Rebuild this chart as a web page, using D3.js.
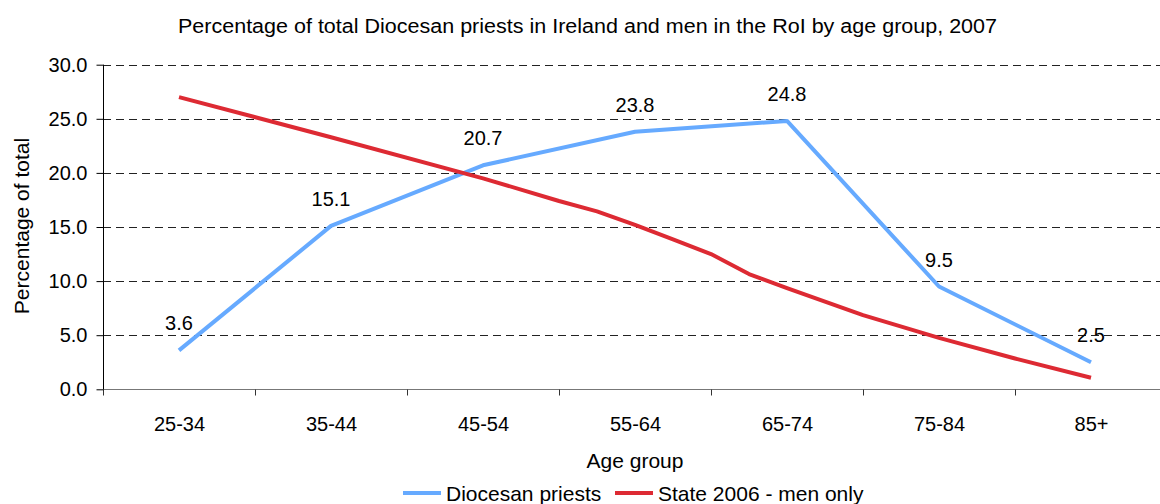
<!DOCTYPE html>
<html>
<head>
<meta charset="utf-8">
<script src="https://cdn.jsdelivr.net/npm/d3@7"></script>
<style>
  body { margin: 0; background: #fff; }
  text { font-family: "Liberation Sans", Arial, sans-serif; fill: #000; }
</style>
</head>
<body>
<div id="chart"></div>
<script>
// categories and values
var ageGroups = ["25-34", "35-44", "45-54", "55-64", "65-74", "75-84", "85+"];
var priests = [3.6, 15.1, 20.7, 23.8, 24.8, 9.5, 2.5];
// State 2006 series, position given in category units (0 = 25-34)
var statePos = [0, 1, 2, 2.5, 2.75, 3, 3.25, 3.5, 3.75, 4, 4.5, 5, 5.5, 6];
var stateVals = [27.0, 23.3, 19.5, 17.4, 16.45, 15.2, 13.85, 12.5, 10.65, 9.35, 6.85, 4.75, 2.85, 1.07];
var yTicks = [0, 5, 10, 15, 20, 25, 30];
var seriesNames = ["Diocesan priests", "State 2006 - men only"];

var W = 1160, H = 504;
var plotLeft = 103, plotRight = 1167, plotTop = 64.7, plotBottom = 389.3;
var blue = "#66aaff", red = "#dd2a33";

var svg = d3.select("#chart")
  .append("svg")
    .attr("width", W)
    .attr("height", H);

// x: linear on category index so boundaries sit at half steps
var x = d3.scaleLinear()
  .domain([-0.5, ageGroups.length - 0.5])
  .range([plotLeft, plotRight]);

var y = d3.scaleLinear()
  .domain([0, 30])
  .range([plotBottom, plotTop]);

// Title (narrow-looking in the original, so squeeze it to its width)
svg.append("text")
  .attr("x", 178)
  .attr("y", 33)
  .attr("textLength", 819)
  .attr("lengthAdjust", "spacingAndGlyphs")
  .style("font-size", "20px")
  .text("Percentage of total Diocesan priests in Ireland and men in the RoI by age group, 2007");

// gridlines
svg.append("g")
  .selectAll("line")
  .data(yTicks.filter(function (d) { return d > 0; }))
  .enter()
  .append("line")
    .attr("x1", plotLeft)
    .attr("x2", W)
    .attr("y1", function (d) { return Math.round(y(d)) + 0.5; })
    .attr("y2", function (d) { return Math.round(y(d)) + 0.5; })
    .attr("stroke", "#222")
    .attr("stroke-dasharray", "8,5");

// X axis: boundary ticks
var xAxis = svg.append("g")
  .attr("transform", "translate(0," + (Math.round(plotBottom) + 0.5) + ")")
  .call(d3.axisBottom(x)
    .tickValues(d3.range(-0.5, ageGroups.length, 1))
    .tickSize(6)
    .tickFormat(""));
xAxis.select(".domain").attr("stroke", "#777").attr("d", "M" + plotLeft + ",0H" + W);
xAxis.selectAll(".tick line").attr("stroke", "#333");

// X axis: category labels at centres
var xLabels = svg.append("g")
  .attr("transform", "translate(0," + (Math.round(plotBottom) + 0.5) + ")")
  .call(d3.axisBottom(x)
    .tickValues(d3.range(ageGroups.length))
    .tickSize(0)
    .tickPadding(27)
    .tickFormat(function (d) { return ageGroups[d]; }));
xLabels.select(".domain").remove();
xLabels.selectAll("text")
  .style("font-size", "20px")
  .style("font-family", "Liberation Sans, Arial, sans-serif");

// Y axis
var yAxis = svg.append("g")
  .attr("transform", "translate(" + (plotLeft + 0.5) + ",0)")
  .call(d3.axisLeft(y)
    .tickValues(yTicks)
    .tickSize(7)
    .tickPadding(9)
    .tickFormat(d3.format(".1f")));
yAxis.select(".domain").attr("stroke", "#000").attr("d", "M0," + plotTop + "V" + plotBottom);
yAxis.selectAll(".tick line").attr("stroke", "#000");
yAxis.selectAll("text")
  .style("font-size", "20px")
  .style("font-family", "Liberation Sans, Arial, sans-serif");

// axis titles
svg.append("text")
  .attr("x", (plotLeft + plotRight) / 2)
  .attr("y", 468)
  .attr("text-anchor", "middle")
  .style("font-size", "21px")
  .text("Age group");

svg.append("text")
  .attr("transform", "translate(29,226) rotate(-90)")
  .attr("text-anchor", "middle")
  .style("font-size", "21px")
  .text("Percentage of total");

// lines
var line = d3.line()
  .x(function (d) { return x(d[0]); })
  .y(function (d) { return y(d[1]); });

var stateData = statePos.map(function (p, i) { return [p, stateVals[i]]; });
var priestData = priests.map(function (v, i) { return [i, v]; });

svg.append("path")
  .datum(priestData)
  .attr("fill", "none")
  .attr("stroke", blue)
  .attr("stroke-width", 4)
  .attr("stroke-linejoin", "round")
  .attr("d", line);

svg.append("path")
  .datum(stateData)
  .attr("fill", "none")
  .attr("stroke", red)
  .attr("stroke-width", 4)
  .attr("stroke-linejoin", "round")
  .attr("d", line);

// data labels
svg.append("g")
  .selectAll("text")
  .data(priestData)
  .enter()
  .append("text")
    .attr("x", function (d) { return x(d[0]); })
    .attr("y", function (d) { return y(d[1]) - 20; })
    .attr("text-anchor", "middle")
    .style("font-size", "20px")
    .text(function (d) { return d[1].toFixed(1); });

// legend
var legend = svg.append("g").attr("transform", "translate(0,493)");
var legendItems = [
  {name: seriesNames[0], color: blue, x0: 403},
  {name: seriesNames[1], color: red, x0: 615}
];
legendItems.forEach(function (it) {
  legend.append("line")
    .attr("x1", it.x0).attr("x2", it.x0 + 38)
    .attr("y1", 0).attr("y2", 0)
    .attr("stroke", it.color)
    .attr("stroke-width", 4);
  legend.append("text")
    .attr("x", it.x0 + 43)
    .attr("y", 7.5)
    .style("font-size", "21px")
    .text(it.name);
});
</script>
</body>
</html>
